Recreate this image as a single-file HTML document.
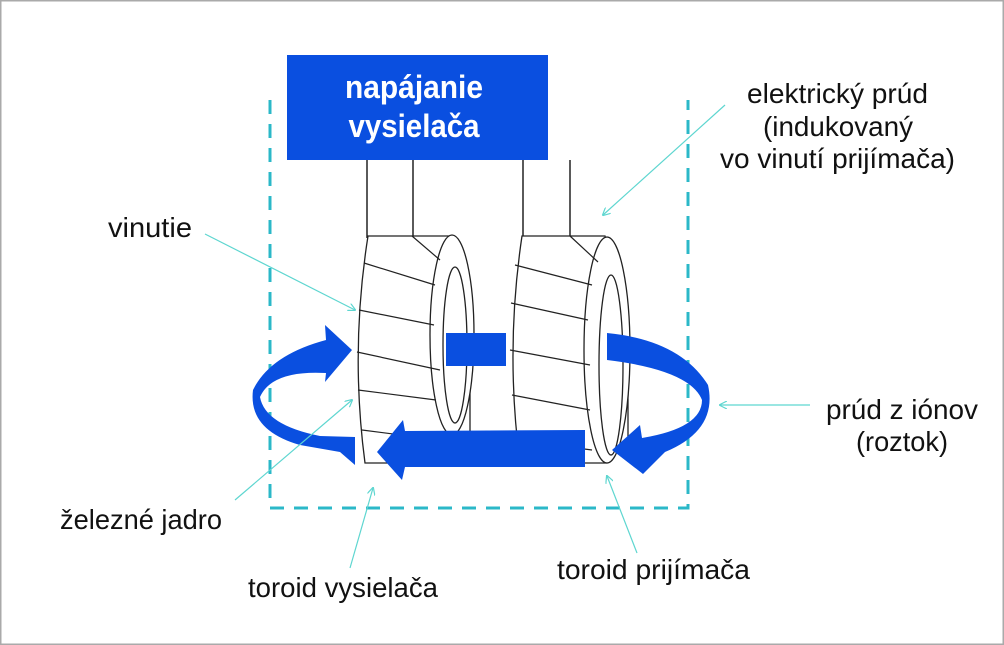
<!DOCTYPE html>
<html><head><meta charset="utf-8"><style>
html,body{margin:0;padding:0;background:#fff}
svg{display:block}
text{font-family:"Liberation Sans Narrow","Liberation Sans",sans-serif;font-size:28px;fill:#111}
</style></head><body>
<svg width="1004" height="645" viewBox="0 0 1004 645" xmlns="http://www.w3.org/2000/svg">
<rect x="0.5" y="0.5" width="1003" height="644" fill="#fff" stroke="#aaa" stroke-width="2"/>
<defs>
<marker id="a" markerWidth="8" markerHeight="8" refX="7" refY="4" orient="auto" markerUnits="userSpaceOnUse"><path d="M0,0 L8,4 L0,8" fill="none" stroke="#5ed6d0" stroke-width="1.2"/></marker>
</defs>
<g stroke="#2bb8c8" stroke-width="3" stroke-dasharray="14,10" fill="none">
<path d="M270,100 L270,508 L688,508 L688,100"/>
</g>
<g stroke="#222" stroke-width="1.5" fill="none">
<line x1="367" y1="160" x2="367" y2="238"/>
<line x1="413" y1="160" x2="413" y2="236"/>
<line x1="523" y1="160" x2="523" y2="238"/>
<line x1="570" y1="160" x2="570" y2="236"/>
</g>
<rect x="287" y="55" width="261" height="105" fill="#0a4fe0"/>
<text x="414" y="98" text-anchor="middle" style="font-weight:bold;font-size:32px;fill:#fff" textLength="138" lengthAdjust="spacingAndGlyphs">napájanie</text>
<text x="414" y="137" text-anchor="middle" style="font-weight:bold;font-size:32px;fill:#fff" textLength="131" lengthAdjust="spacingAndGlyphs">vysielača</text>
<g stroke="#222" stroke-width="1.3" fill="#fff">
<path d="M368,236 L450,236 L470,330 L470,440 L450,463 L365,463 Q350,350 368,236 Z"/>
<ellipse cx="452" cy="335" rx="22" ry="100"/>
<ellipse cx="455" cy="345" rx="12" ry="78"/>
<path d="M522,236 L605,236 L628,330 L628,440 L607,463 L520,463 Q505,350 522,236 Z"/>
<ellipse cx="607" cy="350" rx="23" ry="113"/>
<ellipse cx="611" cy="365" rx="12" ry="90"/>
</g>
<g stroke="#222" stroke-width="1.2" fill="none">
<path d="M364,263 L435,285 M359,310 L434,325 M357,352 L440,370 M358,390 L436,400 M362,430 L440,440 M412,236 L440,260"/>
<path d="M515,265 L592,285 M511,303 L588,320 M510,350 L590,365 M512,395 L590,410 M515,440 L592,450 M570,236 L598,262"/>
</g>
<g fill="#0a4fe0">
<rect x="446" y="333" width="60" height="33"/>
<path d="M585,430 L585,467 L405,467 L402,480 L377,452 L403,420 L405,431 Z"/>
<path d="M352,350 L325,325 L326,340 Q270,355 253,390 Q248,430 300,445 L340,452 L355,465 L355,437 L320,436 Q265,425 260,397 Q272,370 326,373 L325,382 Z"/>
<path d="M607,333 Q680,340 708,385 Q718,430 665,452 L643,474 L612,450 L640,425 L642,438 Q702,428 702,400 Q690,370 607,360 Z"/>
</g>
<g stroke="#5ed6d0" stroke-width="1.2" fill="none" marker-end="url(#a)">
<line x1="205" y1="234" x2="355" y2="310"/>
<line x1="725" y1="105" x2="603" y2="215"/>
<line x1="810" y1="405" x2="720" y2="405"/>
<line x1="235" y1="500" x2="352" y2="400"/>
<line x1="350" y1="568" x2="373" y2="488"/>
<line x1="637" y1="553" x2="607" y2="476"/>
</g>
<text x="108" y="237" textLength="84" lengthAdjust="spacingAndGlyphs">vinutie</text>
<text x="747" y="103" textLength="181" lengthAdjust="spacingAndGlyphs">elektrický prúd</text>
<text x="763" y="136" textLength="150" lengthAdjust="spacingAndGlyphs">(indukovaný</text>
<text x="720" y="168" textLength="235" lengthAdjust="spacingAndGlyphs">vo vinutí prijímača)</text>
<text x="826" y="419" textLength="152" lengthAdjust="spacingAndGlyphs">prúd z iónov</text>
<text x="856" y="451" textLength="92" lengthAdjust="spacingAndGlyphs">(roztok)</text>
<text x="60" y="529" textLength="162" lengthAdjust="spacingAndGlyphs">železné jadro</text>
<text x="248" y="597" textLength="190" lengthAdjust="spacingAndGlyphs">toroid vysielača</text>
<text x="557" y="579" textLength="193" lengthAdjust="spacingAndGlyphs">toroid prijímača</text>
</svg>
</body></html>
